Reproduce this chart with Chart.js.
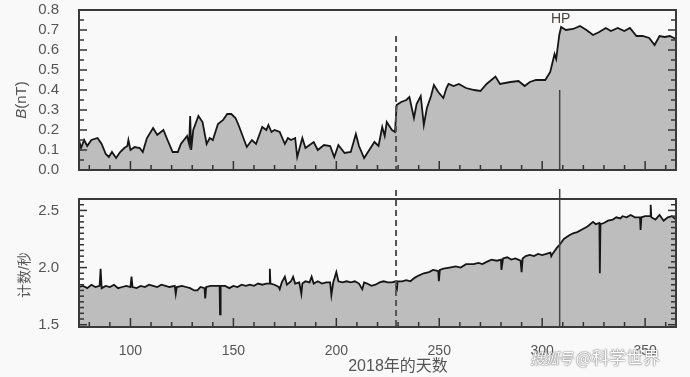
<!DOCTYPE html>
<html lang="zh">
<head>
<meta charset="UTF-8">
<title>2018年的天数</title>
<script src="https://cdn.jsdelivr.net/npm/chart.js"></script>
<style>
  html, body { margin: 0; padding: 0; background: #f9f9f9; }
  #wrap { position: relative; width: 690px; height: 377px; overflow: hidden; }
  #wrap canvas { position: absolute; left: 0; }
  #topChart { top: 0; }
  #bottomChart { top: 185px; }
  #mark { position: absolute; left: 530px; top: 344px; font: 17px 'Noto Sans CJK SC', sans-serif;
          color: #fff; text-shadow: 0 0 2px #777, 0 0 1px #555; white-space: nowrap; }
  #mark i { font-size: 15px; letter-spacing: -1px; }
</style>
</head>
<body>
<div id="wrap">
  <canvas id="topChart" width="690" height="185"></canvas>
  <canvas id="bottomChart" width="690" height="192"></canvas>
  <div id="mark"><i>搜狐号</i> @科学世界</div>
</div>
<script>
// 磁场强度 B (nT)
const bDays = [75, 76, 77.5, 79, 81, 84, 86, 88, 89.5, 91, 93, 95, 97, 98.5, 99, 100, 102, 104.5, 106, 108,
  111, 113, 116, 118, 120.5, 123, 124.5, 127.5, 128.5, 129, 129.5, 130.5, 133, 135, 137, 138.5, 140, 142.5, 145, 147,
  149, 151, 152.5, 156.5, 159, 161, 164, 166, 167, 168.5, 170, 172.5, 175, 176.5, 178, 180, 181, 183.5, 185, 189,
  191, 194, 197, 199, 201, 204, 207, 209.5, 211, 213.5, 216, 218.5, 220.5, 222.3, 223.5, 224.5, 227, 228.5, 229.3, 231.5,
  234, 235.5, 237.7, 239, 241, 242.5, 244, 246, 247.4, 249.5, 252, 253.5, 254.5, 257, 259.5, 263, 267, 270, 273, 277.3,
  279.5, 284.6, 288.5, 291.5, 294, 297, 301.5, 303.9, 305.3, 306, 306.8, 308.3, 309.2, 311.5, 315, 318.4, 321.5, 324.7,
  327.7, 330.9, 333.4, 336.7, 339.9, 342.6, 345.8, 348.8, 352, 354.6, 357, 359.5, 362, 365];
const bVals = [0.15, 0.11, 0.15, 0.12, 0.15, 0.16, 0.13, 0.08, 0.065, 0.09, 0.06, 0.09, 0.11, 0.12, 0.15, 0.10, 0.115, 0.11, 0.09, 0.16,
  0.21, 0.175, 0.2, 0.15, 0.09, 0.09, 0.13, 0.17, 0.13, 0.27, 0.10, 0.2, 0.27, 0.24, 0.13, 0.16, 0.15, 0.23, 0.25, 0.28,
  0.28, 0.26, 0.225, 0.115, 0.15, 0.13, 0.215, 0.2, 0.225, 0.19, 0.2, 0.19, 0.13, 0.16, 0.15, 0.16, 0.065, 0.16, 0.11, 0.14,
  0.1, 0.125, 0.12, 0.065, 0.125, 0.085, 0.09, 0.18, 0.12, 0.06, 0.1, 0.14, 0.12, 0.215, 0.17, 0.24, 0.2, 0.19, 0.325, 0.34,
  0.35, 0.365, 0.26, 0.33, 0.37, 0.225, 0.31, 0.37, 0.425, 0.39, 0.36, 0.41, 0.43, 0.42, 0.43, 0.41, 0.40, 0.395, 0.43, 0.467,
  0.43, 0.44, 0.445, 0.42, 0.44, 0.45, 0.45, 0.49, 0.55, 0.58, 0.555, 0.675, 0.715, 0.70, 0.705, 0.72, 0.70, 0.675,
  0.69, 0.71, 0.695, 0.71, 0.695, 0.71, 0.67, 0.67, 0.66, 0.625, 0.67, 0.665, 0.67, 0.655];

// 计数/秒
const cDays = [75, 77, 79, 81, 83, 85, 85.5, 86, 88, 90, 92, 94, 96, 98, 100, 100.5, 101, 103, 105, 107,
  109, 111, 113, 115, 117, 119, 121.5, 122, 122.5, 125, 127, 129, 131, 132.5, 134, 136, 136.3, 136.8, 139, 141,
  143.3, 143.5, 143.8, 146, 148, 150, 152, 154, 156, 158, 160, 162, 164, 166, 167.5, 167.7, 168, 170, 172, 172.5,
  173.5, 175, 176, 178, 179, 180, 182, 183, 183.5, 185, 187, 188, 189, 191, 193, 195, 197, 197.6, 198.5, 200,
  201, 203, 205, 207, 209, 211, 212.6, 213.5, 215, 217, 219, 221, 223, 225, 227, 229, 229.3, 229.8, 232, 234,
  236, 238, 240, 242.5, 245, 247, 249.5, 249.8, 250.3, 252, 255, 258, 260.4, 263, 266.7, 269, 271, 273, 275.4, 278,
  280, 280.2, 281, 283, 285, 287, 289.5, 290, 290.5, 292, 294, 296, 298, 300, 302, 304, 304.4, 305, 307, 308.5,
  310.5, 313, 315, 317, 320, 322, 324.7, 326, 327.8, 328, 328.3, 330, 332, 334.3, 336, 338, 339, 341, 343, 345,
  347.5, 347.8, 348.2, 350, 352.4, 352.7, 353, 355, 357, 359, 361, 363, 365];
const cVals = [1.83, 1.84, 1.82, 1.85, 1.83, 1.84, 1.99, 1.82, 1.84, 1.83, 1.85, 1.82, 1.83, 1.84, 1.83, 1.92, 1.83, 1.82, 1.84, 1.83,
  1.85, 1.84, 1.83, 1.85, 1.84, 1.83, 1.84, 1.77, 1.83, 1.84, 1.83, 1.82, 1.80, 1.80, 1.83, 1.82, 1.73, 1.83, 1.84, 1.84,
  1.84, 1.59, 1.84, 1.84, 1.82, 1.84, 1.83, 1.85, 1.84, 1.85, 1.84, 1.86, 1.85, 1.86, 1.86, 1.99, 1.86, 1.85, 1.83, 1.81,
  1.87, 1.92, 1.85, 1.88, 1.92, 1.86, 1.87, 1.77, 1.86, 1.88, 1.87, 1.92, 1.86, 1.88, 1.86, 1.87, 1.87, 1.76, 1.87, 1.96,
  1.88, 1.87, 1.88, 1.87, 1.88, 1.86, 1.81, 1.87, 1.86, 1.84, 1.85, 1.87, 1.88, 1.87, 1.87, 1.88, 1.79, 1.88, 1.88, 1.89,
  1.88, 1.91, 1.93, 1.95, 1.96, 1.98, 1.97, 1.88, 1.98, 1.99, 2.0, 2.01, 2.0, 2.03, 2.03, 2.04, 2.03, 2.05, 2.07, 2.06,
  2.07, 1.98, 2.08, 2.09, 2.07, 2.08, 2.06, 1.96, 2.08, 2.1, 2.11, 2.1, 2.12, 2.11, 2.12, 2.13, 2.1, 2.12, 2.17, 2.2,
  2.25, 2.28, 2.3, 2.31, 2.34, 2.36, 2.4, 2.38, 2.39, 1.95, 2.38, 2.39, 2.41, 2.42, 2.44, 2.43, 2.45, 2.44, 2.46, 2.44,
  2.44, 2.33, 2.44, 2.45, 2.45, 2.55, 2.44, 2.42, 2.46, 2.41, 2.44, 2.45, 2.42];

const xTickLabels = [100, 150, 200, 250, 300, 350];
const bTickLabels = [0, 0.1, 0.2, 0.3, 0.4, 0.5, 0.6, 0.7, 0.8];
const cTickLabels = [1.5, 2.0, 2.5];

const dashedDay = 229;     // 虚线
const hpDay = 308.5;       // HP 竖线
const dashedTopB = 0.67;
const hpTopB = 0.4;

const FONT = "'Liberation Sans', 'Noto Sans CJK SC', sans-serif";
Chart.defaults.font.family = FONT;
Chart.defaults.color = '#555';

// 边框、内向刻度、竖线和文字
const decor = {
  id: 'decor',
  afterDatasetsDraw(chart, args, o) {
    const { ctx, chartArea: a, scales: { x, y } } = chart;
    const line = (x1, y1, x2, y2) => { ctx.beginPath(); ctx.moveTo(x1, y1); ctx.lineTo(x2, y2); ctx.stroke(); };
    ctx.save();

    // 竖线
    ctx.strokeStyle = '#555';
    ctx.lineWidth = 2;
    ctx.setLineDash([6, 4]);
    const xd = x.getPixelForValue(dashedDay);
    line(xd, o.markerTop === null ? a.top - 9 : y.getPixelForValue(dashedTopB), xd, a.bottom);
    ctx.setLineDash([]);
    ctx.strokeStyle = '#444';
    ctx.lineWidth = 1.5;
    const xh = x.getPixelForValue(hpDay);
    line(xh, o.markerTop === null ? a.top - 10 : y.getPixelForValue(hpTopB), xh, a.bottom);

    // x 刻度
    ctx.strokeStyle = '#333';
    ctx.lineWidth = 1.5;
    for (let d = 80; d <= 360; d += 10) {
      const px = x.getPixelForValue(d);
      line(px, a.bottom, px, a.bottom - (d % 50 === 0 ? 9 : 5));
    }
    // y 刻度（左右两侧）
    const n = Math.round((o.yMax - o.yMin) / o.yStep);
    for (let i = 0; i <= n; i++) {
      const v = o.yMin + i * o.yStep;
      const py = y.getPixelForValue(v);
      if (py < a.top + 1 || py > a.bottom - 1) continue;
      const len = i % o.bigEvery === 0 ? 8 : 5;
      line(a.left, py, a.left + len, py);
      line(a.right, py, a.right - len, py);
    }

    // 边框
    ctx.strokeStyle = '#3a3a3a';
    ctx.lineWidth = 2;
    ctx.strokeRect(a.left, a.top, a.width, a.height);

    // y 轴标题
    ctx.fillStyle = '#555';
    ctx.textBaseline = 'middle';
    ctx.translate(o.titleX, o.titleY);
    ctx.rotate(-Math.PI / 2);
    if (o.italic) {
      ctx.font = 'italic 15px ' + FONT;
      const w1 = ctx.measureText(o.italic).width;
      ctx.font = '15px ' + FONT;
      const w2 = ctx.measureText(o.title).width;
      ctx.textAlign = 'left';
      ctx.font = 'italic 15px ' + FONT;
      ctx.fillText(o.italic, -(w1 + w2) / 2, 0);
      ctx.font = '15px ' + FONT;
      ctx.fillText(o.title, -(w1 + w2) / 2 + w1, 0);
    } else {
      ctx.font = '14px ' + FONT;
      ctx.textAlign = 'center';
      ctx.fillText(o.title, 0, 0);
    }
    ctx.setTransform(1, 0, 0, 1, 0, 0);

    if (o.hp) {
      ctx.font = '14px ' + FONT;
      ctx.fillStyle = '#4a4440';
      ctx.textAlign = 'center';
      ctx.fillText('HP', x.getPixelForValue(309), y.getPixelForValue(0.755));
    }
    if (o.xTitle) {
      ctx.font = '16px ' + FONT;
      ctx.fillStyle = '#555';
      ctx.textAlign = 'center';
      ctx.fillText(o.xTitle, 398, 182);
    }
    ctx.restore();
  }
};

function makeChart(id, days, vals, yMin, yMax, yTicks, pad, xHeight, showX, decorOpts) {
  return new Chart(document.getElementById(id), {
    type: 'line',
    data: {
      datasets: [{
        data: days.map((d, i) => ({ x: d, y: vals[i] })),
        borderColor: '#161616',
        borderWidth: 1.8,
        backgroundColor: '#bdbdbd',
        fill: 'start',
        pointRadius: 0,
        tension: 0
      }]
    },
    options: {
      responsive: false,
      animation: false,
      devicePixelRatio: 1,
      layout: { padding: { top: pad, right: 14, left: 0, bottom: 0 } },
      plugins: { legend: { display: false }, tooltip: { enabled: false }, decor: decorOpts },
      scales: {
        x: {
          type: 'linear', min: 75, max: 365,
          grid: { display: false }, border: { display: false },
          afterBuildTicks: s => { s.ticks = xTickLabels.map(v => ({ value: v })); },
          afterFit: s => { s.height = xHeight; s.paddingLeft = 0; s.paddingRight = 0; },
          ticks: { display: showX, autoSkip: false, maxRotation: 0, padding: 8, font: { size: 14 }, color: '#555' }
        },
        y: {
          min: yMin, max: yMax,
          grid: { display: false }, border: { display: false },
          afterBuildTicks: s => { s.ticks = yTicks.map(v => ({ value: v })); },
          afterFit: s => { s.width = 79; s.paddingTop = 0; s.paddingBottom = 0; },
          ticks: { autoSkip: false, padding: 12, font: { size: 15 }, color: '#555', callback: v => v.toFixed(1) }
        }
      }
    },
    plugins: [decor]
  });
}

makeChart('topChart', bDays, bVals, 0, 0.8, bTickLabels, 10, 15, false,
  { yMin: 0, yMax: 0.8, yStep: 0.05, bigEvery: 2, markerTop: 'value', title: '(nT)', italic: 'B',
    titleX: 22, titleY: 100, hp: true });
makeChart('bottomChart', cDays, cVals, 1.48, 2.6, cTickLabels, 14, 50, true,
  { yMin: 1.5, yMax: 2.6, yStep: 0.05, bigEvery: 10, markerTop: null, title: '计数/秒',
    titleX: 25, titleY: 90, xTitle: '2018年的天数' });
</script>
</body>
</html>
